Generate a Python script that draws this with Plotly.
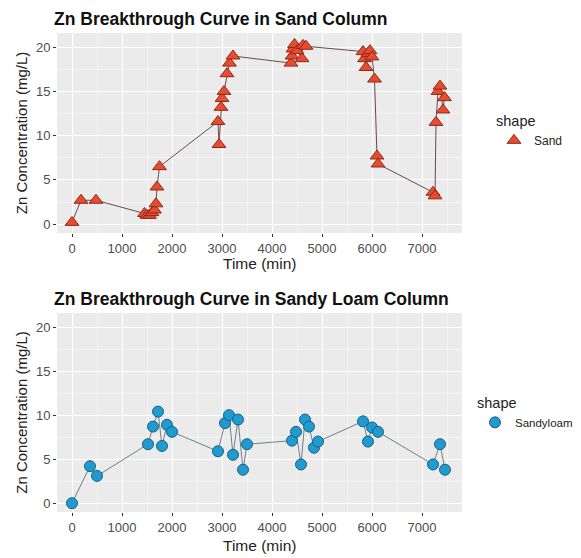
import plotly.graph_objects as go

sand_time = [0, 180, 480, 1450, 1500, 1550, 1600, 1650, 1680, 1700, 1750,
             2920, 2940, 2980, 3000, 3040, 3100, 3150, 3220,
             4380, 4400, 4420, 4450, 4500, 4600, 4620, 4680,
             5820, 5850, 5880, 5920, 5960, 6000, 6050, 6100, 6120,
             7220, 7260, 7280, 7320, 7360, 7420, 7450]
sand_conc = [0.2, 2.7, 2.7, 1.2, 1.0, 1.0, 1.3, 1.6, 2.3, 4.2, 6.5,
             11.6, 9.0, 13.2, 14.2, 15.0, 17.0, 18.2, 19.0,
             18.2, 19.0, 19.8, 20.3, 19.6, 18.7, 20.2, 20.1,
             19.5, 18.7, 17.7, 19.3, 19.6, 18.9, 16.4, 7.7, 6.8,
             3.6, 3.2, 11.5, 15.0, 15.6, 12.9, 14.3]

loam_time = [0, 360, 500, 1520, 1620, 1720, 1800, 1900, 2000,
             2920, 3060, 3140, 3220, 3320, 3420, 3500,
             4400, 4480, 4580, 4660, 4740, 4840, 4920,
             5820, 5920, 6000, 6120, 7220, 7360, 7460]
loam_conc = [0.0, 4.2, 3.1, 6.7, 8.7, 10.4, 6.5, 8.9, 8.1,
             5.9, 9.1, 10.0, 5.5, 9.5, 3.8, 6.7,
             7.1, 8.1, 4.4, 9.5, 8.7, 6.3, 7.0,
             9.3, 7.0, 8.6, 8.1, 4.4, 6.7, 3.8]

x_ticks = [0, 1000, 2000, 3000, 4000, 5000, 6000, 7000]
y_ticks = [0, 5, 10, 15, 20]

OFF = 8  # page body margin
W, H = 581 - OFF, 558 - OFF
FONT = "Liberation Sans, Arial, sans-serif"

def px_x(p):
    return (p - OFF) / W

def px_y(p):
    return 1 - (p - OFF) / H

fig = go.Figure()

fig.add_trace(go.Scatter(
    x=sand_time, y=sand_conc, mode="lines", line=dict(color="#6b4a4a", width=1),
    showlegend=False, xaxis="x", yaxis="y", hoverinfo="skip"))
fig.add_trace(go.Scatter(
    x=sand_time, y=sand_conc, mode="markers", name="Sand",
    marker=dict(symbol="triangle-up", size=12, color="#EA4A2E",
                line=dict(color="#8a2a1a", width=1)),
    xaxis="x", yaxis="y", legend="legend"))

fig.add_trace(go.Scatter(
    x=loam_time, y=loam_conc, mode="lines", line=dict(color="#6f7f86", width=1),
    showlegend=False, xaxis="x2", yaxis="y2", hoverinfo="skip"))
fig.add_trace(go.Scatter(
    x=loam_time, y=loam_conc, mode="markers", name="Sandyloam",
    marker=dict(symbol="circle", size=11, color="#1F9BD1",
                line=dict(color="#1a5f80", width=1)),
    xaxis="x2", yaxis="y2", legend="legend2"))

xdom = [px_x(57), px_x(462)]
axis_common = dict(
    showgrid=True, gridcolor="white", gridwidth=1.1, zeroline=False,
    ticks="outside", ticklen=3, tickcolor="#333333",
    tickfont=dict(family=FONT, size=13, color="#4d4d4d"),
    showline=False, automargin=False,
)
xcommon = dict(axis_common, range=[-300, 7800], tickvals=x_ticks,
               minor=dict(dtick=500, tick0=500, showgrid=True, gridcolor="#f5f5f5", gridwidth=0.6))
ycommon = dict(axis_common, range=[-1.0, 21.6], tickvals=y_ticks,
               minor=dict(dtick=2.5, tick0=2.5, showgrid=True, gridcolor="#f5f5f5", gridwidth=0.6),
               title=dict(text="Zn Concentration (mg/L)", font=dict(family=FONT, size=15, color="#222"), standoff=4))

def label(text, x, y, size, bold=False, anchor="left", angle=0):
    return dict(text=f"<b>{text}</b>" if bold else text, x=px_x(x), y=px_y(y),
                xref="paper", yref="paper", xanchor=anchor, yanchor="middle",
                showarrow=False, textangle=angle,
                font=dict(family=FONT, size=size, color="#111" if bold else "#222"))

fig.update_layout(
    width=W, height=H,
    margin=dict(l=0, r=0, t=0, b=0, autoexpand=False),
    paper_bgcolor="white", plot_bgcolor="#EBEBEB",
    font=dict(family=FONT),
    xaxis=dict(xcommon, domain=xdom, anchor="y"),
    yaxis=dict(ycommon, domain=[px_y(233), px_y(33)], anchor="x"),
    xaxis2=dict(xcommon, domain=xdom, anchor="y2"),
    yaxis2=dict(ycommon, domain=[px_y(512), px_y(313)], anchor="x2"),
    legend=dict(x=px_x(494), y=px_y(107), xanchor="left", yanchor="top",
                title=dict(text="shape", font=dict(family=FONT, size=14.5, color="#222")),
                font=dict(family=FONT, size=12, color="#222"), bgcolor="rgba(0,0,0,0)"),
    legend2=dict(x=px_x(475), y=px_y(389), xanchor="left", yanchor="top",
                 title=dict(text="shape", font=dict(family=FONT, size=14.5, color="#222")),
                 font=dict(family=FONT, size=11.5, color="#222"), bgcolor="rgba(0,0,0,0)"),
    annotations=[
        label("Zn Breakthrough Curve in Sand Column", 52, 19, 17.5, bold=True),
        label("Zn Breakthrough Curve in Sandy Loam Column", 52, 299, 17.5, bold=True),
        label("Time (min)", 259, 263, 15.5, anchor="center"),
        label("Time (min)", 259, 545, 15.5, anchor="center"),
    ],
)

fig.write_html("out.html")
